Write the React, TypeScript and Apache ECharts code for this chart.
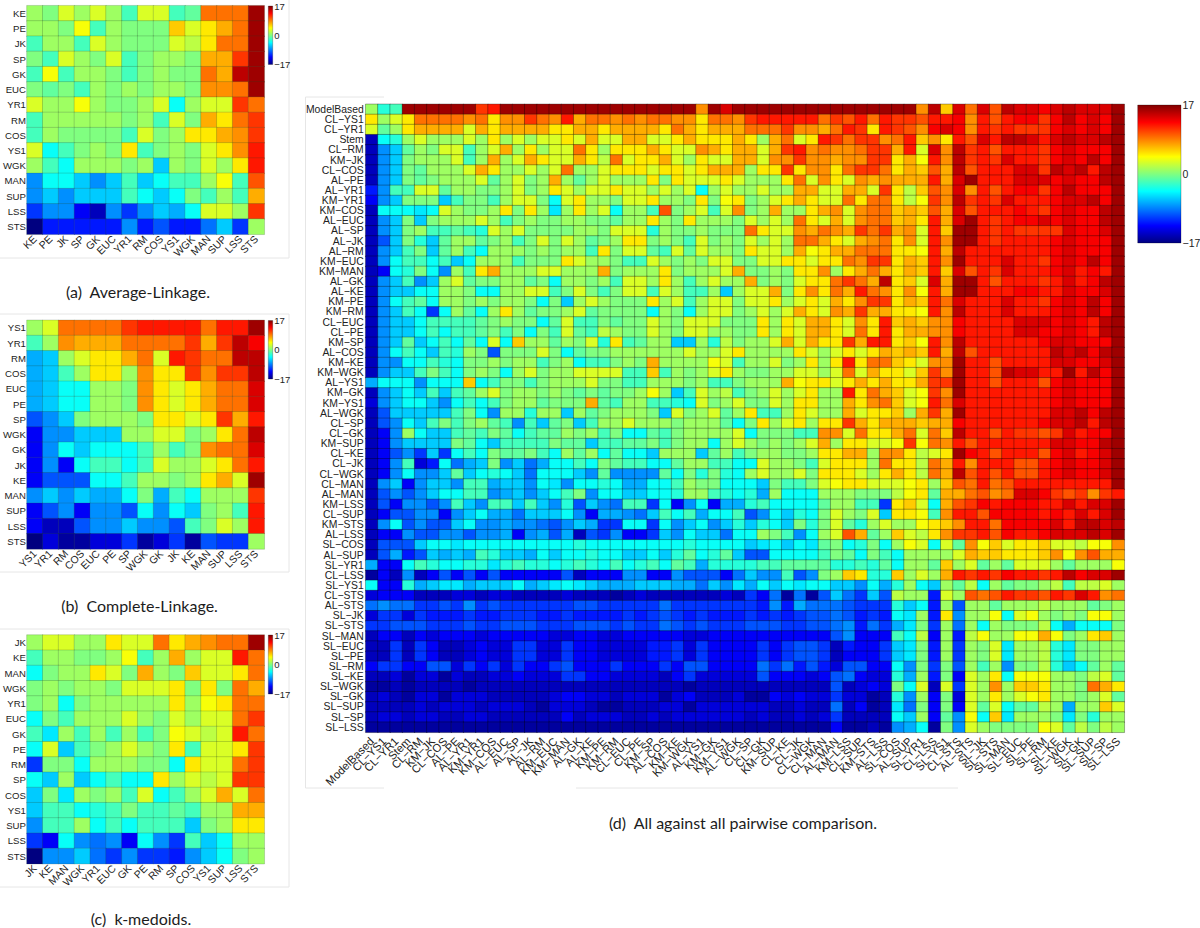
import React, { useEffect, useRef } from "react";
import * as echarts from "echarts";

const labelsA = ["KE","PE","JK","SP","GK","EUC","YR1","RM","COS","YS1","WGK","MAN","SUP","LSS","STS"];
const labelsB = ["YS1","YR1","RM","COS","EUC","PE","SP","WGK","GK","JK","KE","MAN","SUP","LSS","STS"];
const labelsC = ["JK","KE","MAN","WGK","YR1","EUC","GK","PE","RM","SP","COS","YS1","SUP","LSS","STS"];
const labelsD = ["ModelBased","CL−YS1","CL−YR1","Stem","CL−RM","KM−JK","CL−COS","AL−PE","AL−YR1","KM−YR1","KM−COS","AL−EUC","AL−SP","AL−JK","AL−RM","KM−EUC","KM−MAN","AL−GK","AL−KE","KM−PE","KM−RM","CL−EUC","CL−PE","KM−SP","AL−COS","KM−KE","KM−WGK","AL−YS1","KM−GK","KM−YS1","AL−WGK","CL−SP","CL−GK","KM−SUP","CL−KE","CL−JK","CL−WGK","CL−MAN","AL−MAN","KM−LSS","CL−SUP","KM−STS","AL−LSS","SL−COS","AL−SUP","SL−YR1","CL−LSS","SL−YS1","CL−STS","AL−STS","SL−JK","SL−STS","SL−MAN","SL−EUC","SL−PE","SL−RM","SL−KE","SL−WGK","SL−GK","SL−SUP","SL−SP","SL−LSS"];

const valuesA = [
[1,0,3,1,3,1,-2,3,3,-2,-1,9,9,9,16],
[1,1,0,4,-2,1,0,0,0,6,3,5,7,9,16],
[-2,1,1,-2,3,1,0,0,0,3,2,5,9,9,16],
[0,-2,3,1,0,3,-2,0,1,1,0,7,7,11,16],
[-2,4,-2,1,1,0,-2,0,1,0,0,9,7,15,16],
[0,-1,0,-2,1,0,1,0,1,1,0,8,8,9,16],
[3,1,1,4,1,0,0,1,3,-4,1,3,3,11,9],
[-2,1,1,1,1,1,0,1,-2,3,0,7,5,9,11],
[-2,1,0,0,0,0,-2,3,0,1,5,5,7,8,11],
[3,-4,-2,0,1,0,5,-2,0,1,0,3,5,8,12],
[1,-2,-4,1,1,1,0,1,-6,1,0,3,1,5,12],
[-8,-4,-4,-6,-8,-6,-2,-6,-4,-2,-2,1,4,-2,10],
[-8,-6,-8,-6,-6,-6,-2,-4,-6,-4,0,-2,1,-2,7],
[-11,-8,-8,-13,-15,-8,-11,-8,-6,-7,-4,3,3,1,11],
[-17,-12,-12,-12,-12,-12,-8,-12,-10,-12,-12,-9,-6,-11,1],
];
const valuesB = [
[1,3,9,9,9,9,11,12,12,12,12,9,12,12,16],
[-2,1,8,7,7,7,9,9,9,9,11,7,11,15,13],
[-7,-6,1,3,5,5,7,9,3,12,11,9,9,15,15],
[-7,-6,-2,1,5,5,1,8,5,5,11,8,11,11,15],
[-7,-6,-4,-4,1,1,0,8,5,3,5,7,9,9,14],
[-7,-6,-4,-4,1,1,0,8,5,3,5,7,9,9,14],
[-10,-8,-6,0,1,1,1,0,5,5,3,5,11,7,12],
[-13,-8,-8,-6,-6,-6,1,1,3,3,0,1,5,9,15],
[-13,-8,-4,-6,-4,-4,-4,-2,1,-2,0,8,9,9,14],
[-13,-8,-13,-4,-2,-2,-4,-2,3,1,1,3,5,9,12],
[-13,-10,-10,-10,-4,-4,-2,1,1,0,1,5,7,3,16],
[-8,-6,-8,-6,-7,-7,-4,0,-7,-2,-4,1,1,1,11],
[-13,-10,-8,-13,-8,-8,-10,-4,-8,-4,-6,0,1,-2,12],
[-13,-15,-15,-10,-8,-8,-6,-8,-8,-10,-2,0,3,1,12],
[-17,-14,-16,-16,-14,-14,-11,-16,-14,-11,-16,-10,-11,-11,1],
];
const valuesC = [
[1,3,3,1,1,5,3,3,9,5,7,8,9,9,16],
[-2,1,1,0,0,1,4,-2,1,7,1,3,3,12,9],
[-4,0,1,1,5,3,0,7,1,0,6,3,3,5,9],
[0,1,0,1,1,0,3,3,3,5,0,5,0,9,7],
[0,1,-4,0,1,1,1,1,1,5,1,4,5,9,9],
[-4,0,-2,1,1,1,3,1,0,3,1,3,3,9,11],
[-2,-5,1,-2,1,-2,1,-2,0,4,3,2,3,12,9],
[-4,3,-6,-2,0,1,3,1,0,5,-2,3,3,5,11],
[-11,0,0,-4,1,1,1,0,0,-4,5,3,3,9,11],
[-4,-6,1,-6,-4,-2,-4,-4,5,1,3,2,3,11,11],
[-6,0,-5,1,0,1,-2,3,-4,-2,1,3,7,3,9],
[-6,-2,-2,-4,-3,-2,0,-2,-2,-1,-2,1,1,7,7],
[-8,-2,-2,1,-4,-2,-4,-2,-2,-2,-6,0,1,5,5],
[-11,-13,-4,-8,-9,-8,-13,-4,-8,-11,-2,-6,-4,1,1],
[-17,-8,-8,-6,-9,-11,-8,-11,-11,-12,-8,-6,-4,0,1],
];

// Panel (d): columns 0-19
const valuesDLeft = [
[1,-3,-2,16,16,16,16,16,16,11,12,16,16,16,16,16,16,16,16,16],
[5,1,3,5,9,9,9,9,8,9,5,8,8,11,9,8,12,7,9,9],
[3,-1,1,5,7,7,7,7,3,7,5,7,7,7,7,5,5,7,7,5],
[-15,-4,-3,1,3,1,1,1,3,1,5,1,3,1,3,3,5,3,7,3],
[-15,-8,-6,-1,1,0,3,3,-2,1,3,7,1,5,1,3,3,9,5,1],
[-15,-8,-6,0,1,1,1,3,-2,1,7,1,3,7,5,3,3,7,5,2],
[-15,-8,-6,0,-1,1,1,1,3,7,5,1,1,3,1,3,9,1,1,3],
[-15,-8,-6,0,-1,0,1,1,1,3,-1,1,3,0,1,7,1,-1,1,3],
[-12,-8,-2,-2,3,3,-1,1,1,0,0,1,3,0,1,5,3,1,3,3],
[-13,-8,-6,0,0,0,-6,-2,0,0,-2,1,3,3,0,-4,3,5,1,1],
[-15,-4,-4,-4,-5,-4,3,1,0,0,1,5,0,5,1,-5,1,5,1,3],
[-15,-8,-6,0,-6,0,1,1,1,3,1,-2,0,1,0,0,1,1,0,0],
[-15,-8,-6,0,1,-2,-2,-1,-2,-3,3,1,3,0,0,0,0,1,1,0],
[-15,-10,-6,0,-3,-6,-1,1,1,-1,0,1,-2,0,3,0,3,1,-1,0],
[-15,-8,-6,-2,0,-6,-1,1,-2,-4,1,1,1,0,1,0,1,1,-2,5],
[-15,-8,-4,-2,-2,-4,-2,-6,-4,1,1,1,-2,0,0,0,5,3,1,1],
[-15,-13,-4,-3,0,-4,-8,1,-2,5,7,1,1,1,3,3,1,1,1,7],
[-15,-8,-6,-2,-8,-6,1,3,-1,0,0,1,1,-1,0,-4,1,1,0,1],
[-15,-8,-6,-6,-4,-4,1,1,0,-4,-4,1,1,3,3,-2,0,3,0,-2],
[-15,-8,-4,-2,-1,-4,1,1,0,1,0,1,1,0,-4,0,-6,1,3,1],
[-15,-8,-6,-2,-4,-11,-4,1,-1,-4,1,5,1,-1,0,0,1,3,-1,0],
[-15,-8,-6,-6,-4,-2,-2,-2,-2,-1,0,1,0,0,-4,-1,3,-2,-2,0],
[-15,-8,-6,-6,-4,-2,-4,-2,-2,-1,0,-2,0,-4,0,-2,3,-1,-2,2],
[-15,-8,-6,-1,-6,-4,-2,-4,-1,-4,3,-4,6,1,1,-1,1,0,3,-3],
[-15,-8,-4,-2,-4,-6,-2,-3,1,0,-10,0,0,0,3,0,-4,-1,0,0],
[-15,-8,-8,-4,-4,-2,-3,-4,0,0,1,0,1,1,-2,0,1,-4,-2,-2],
[-15,-8,-6,-6,-2,0,-2,-4,0,1,0,-4,1,3,0,1,1,3,3,3],
[-7,-4,-4,-4,-8,-4,-4,-4,6,-4,-2,0,0,-2,0,1,1,1,3,0],
[-15,-8,-6,-4,-6,-2,-6,-2,-1,1,3,0,1,1,0,1,0,-1,0,-1],
[-14,-8,-6,-4,-4,-6,-8,-4,-2,-4,-2,0,1,1,-1,0,0,0,7,-1],
[-15,-10,-6,-6,-6,-6,-6,-2,0,-4,-8,1,1,-3,1,1,-6,1,-1,0],
[-15,-10,-8,-4,-6,-2,0,-2,0,1,-1,-2,-8,-2,-6,-1,0,-6,-2,1],
[-15,-13,-8,1,-4,-6,-6,-2,-1,-2,0,-1,-4,-2,-1,-1,1,0,1,-2],
[-15,-13,-8,-6,-6,-6,-6,0,-1,-4,-6,-2,-2,-2,-2,0,-1,-1,-6,-2],
[-15,-13,-10,-8,-11,-6,-11,-4,-2,-4,0,-1,-1,0,-2,-4,1,-1,1,-4],
[-15,-13,-8,-2,-14,-12,-4,-9,-7,-6,0,-8,-6,-9,-7,-4,-4,-2,-4,0],
[-15,-13,-8,-4,-8,-8,-6,-1,-6,-4,-3,-4,-6,-9,-4,-4,-4,-6,-8,-1],
[-15,-8,-6,-13,-8,-6,-6,-8,-2,-2,-7,-6,-6,-8,-4,-5,-8,-4,-4,-3],
[-15,-10,-8,-10,-8,-6,-4,-4,-2,-2,-8,-7,-6,-8,-6,-4,-2,0,-8,-4],
[-15,-10,-13,-8,-8,-10,-8,-2,-6,-8,-2,-2,-6,-2,-6,-8,-3,-10,-6,-8],
[-15,-13,-10,-10,-8,-8,-13,-8,-6,-4,-7,-7,-9,-6,-6,-6,-4,-8,-13,-7],
[-15,-8,-4,-10,-8,-10,-10,-6,-4,-8,-8,-7,-8,-8,-9,-10,-8,-6,-7,-11],
[-15,-13,-13,-8,-10,-10,-8,-8,-10,-8,-8,-7,-13,-8,-7,-10,-7,-15,-10,-11],
[-15,-10,-10,-10,-6,-4,-4,-5,-4,-4,-4,-4,-4,-4,-4,-4,-4,-3,-4,-4],
[-15,-10,-7,-12,-10,-6,-7,-6,-7,-2,-3,-6,-6,-7,-4,-6,-4,-4,-3,-4],
[-7,-13,-13,-4,-2,-3,-4,-4,-3,-3,-5,-3,-2,-3,-3,-4,-3,-2,-3,-4],
[-16,-13,-15,-8,-15,-13,-10,-13,-10,-13,-10,-13,-13,-13,-13,-13,-10,-15,-13,-13],
[-4,-13,-13,-3,-7,-6,-5,-5,-7,-6,-6,-6,-4,-7,-6,-5,-4,-5,-6,-7],
[-14,-13,-13,-13,-15,-15,-15,-14,-14,-15,-14,-14,-15,-15,-15,-15,-14,-15,-15,-15],
[-9,-8,-9,-9,-11,-11,-10,-11,-8,-11,-10,-11,-11,-11,-11,-11,-11,-10,-10,-11],
[-14,-11,-11,-14,-11,-12,-12,-12,-11,-12,-12,-11,-11,-11,-12,-12,-11,-12,-12,-12],
[-11,-11,-10,-10,-10,-11,-11,-11,-10,-11,-11,-10,-10,-10,-11,-11,-11,-10,-10,-10],
[-15,-13,-13,-15,-13,-14,-13,-13,-13,-14,-13,-13,-13,-13,-13,-14,-14,-13,-13,-14],
[-15,-15,-11,-15,-11,-13,-15,-15,-14,-13,-14,-14,-11,-11,-14,-14,-11,-13,-13,-14],
[-15,-15,-11,-15,-11,-13,-15,-15,-14,-13,-14,-14,-11,-11,-14,-14,-11,-13,-13,-14],
[-13,-11,-11,-13,-13,-10,-10,-14,-11,-13,-11,-14,-11,-13,-13,-11,-10,-13,-13,-13],
[-15,-15,-14,-16,-14,-14,-16,-14,-15,-15,-14,-14,-13,-14,-14,-14,-11,-11,-13,-13],
[-16,-16,-15,-16,-15,-15,-15,-15,-16,-15,-15,-15,-15,-15,-15,-15,-15,-15,-15,-15],
[-15,-14,-15,-16,-14,-14,-16,-14,-14,-14,-15,-15,-15,-15,-15,-14,-13,-13,-14,-14],
[-15,-15,-15,-15,-14,-15,-14,-14,-14,-15,-14,-14,-14,-15,-16,-14,-14,-14,-15,-16],
[-15,-14,-14,-15,-14,-14,-15,-15,-14,-14,-15,-15,-15,-15,-15,-15,-13,-15,-14,-14],
[-16,-16,-16,-16,-16,-16,-16,-16,-16,-16,-16,-16,-16,-16,-16,-16,-16,-16,-16,-16],
];

// Panel (d): columns 20-42
const valuesDMiddle = [
[16,16,16,16,16,16,16,8,16,14,16,16,16,16,16,16,16,16,16,16,16,16,16],
[8,9,8,9,9,8,8,5,9,9,8,11,12,12,12,12,12,9,11,10,12,9,12],
[7,7,7,7,5,9,7,5,7,7,7,9,9,9,11,8,8,7,9,12,11,5,12],
[3,7,7,3,3,5,7,5,5,5,7,5,1,7,9,3,5,12,11,9,11,11,8],
[5,5,5,7,5,3,3,8,7,5,7,7,3,7,11,12,8,9,8,8,9,11,11],
[9,3,5,5,7,3,1,5,3,3,7,7,3,8,8,11,8,8,7,8,8,11,11],
[5,5,5,3,5,5,3,5,7,7,7,1,5,5,11,5,8,8,5,9,11,11,9],
[1,1,1,5,0,5,3,3,3,5,3,1,1,1,5,9,3,8,5,3,8,7,8],
[5,3,3,1,3,1,3,-4,1,3,1,1,3,1,1,7,7,3,3,7,7,3,11],
[0,3,3,5,1,1,0,5,0,4,5,0,1,3,5,7,5,3,3,9,5,9,9],
[-4,1,1,-2,10,0,1,3,-2,3,8,0,1,7,1,1,5,7,8,3,8,9,9],
[-1,1,1,5,1,0,5,1,1,1,0,3,1,3,1,9,5,3,7,3,8,9,9],
[3,3,3,-3,1,0,0,1,0,0,0,9,5,3,3,8,7,9,8,7,11,9,11],
[1,5,5,0,1,0,-2,3,0,1,0,3,1,3,1,9,9,7,5,3,7,8,9],
[0,3,3,-1,-2,3,-1,3,1,1,0,5,3,3,1,7,4,5,7,7,9,9,9],
[0,-2,-2,3,1,0,1,0,3,3,0,0,3,3,5,5,3,5,5,9,8,11,11],
[0,1,1,1,5,0,1,1,1,3,7,0,0,1,0,5,5,8,1,5,7,9,7],
[-2,3,3,1,5,1,-2,1,3,1,1,7,0,1,0,3,5,5,9,11,9,7,15],
[0,3,3,-2,3,1,-2,-2,1,-6,1,3,3,7,0,5,8,5,9,7,12,9,8],
[0,0,0,5,1,3,-2,1,3,3,0,3,3,5,1,3,5,3,7,5,8,11,11],
[0,0,0,-4,1,0,-4,1,3,3,0,1,3,1,3,7,5,3,8,7,11,7,7],
[-1,0,0,3,1,0,3,3,3,0,0,0,5,1,5,3,7,7,5,3,8,5,12],
[1,0,0,3,1,0,3,3,1,1,0,0,5,1,5,3,7,7,5,3,9,5,12],
[5,-2,-1,1,1,-6,-6,1,-3,2,0,1,1,3,7,3,7,5,5,11,7,12,12],
[1,1,1,1,1,1,3,1,1,3,5,1,1,1,1,5,3,1,3,5,3,5,7],
[0,1,0,7,1,1,1,1,4,3,-2,1,1,3,0,1,5,1,5,12,5,9,9],
[3,-2,-2,6,-2,1,0,1,3,5,1,0,0,1,1,3,3,1,3,9,3,7,5],
[0,-2,-2,1,1,1,0,1,-2,-2,0,1,1,1,7,4,5,5,3,5,7,5,7],
[0,0,1,4,1,-6,-2,3,1,2,-2,0,1,3,1,3,5,1,1,12,5,9,7],
[-2,1,1,-2,-2,-3,-4,3,0,1,3,0,0,3,1,5,5,1,1,7,5,8,9],
[1,1,1,0,-6,3,0,1,3,-1,1,5,-2,-2,1,5,3,1,1,7,3,5,5],
[1,3,1,1,1,0,1,1,1,-1,-4,0,5,1,3,5,1,5,5,11,7,5,7],
[0,-4,-4,-1,-2,0,1,1,1,1,3,-4,0,0,0,-2,-2,8,8,3,9,5,5],
[-2,-1,-1,0,-2,0,1,1,-4,1,3,1,0,1,0,1,3,7,1,5,5,3,3],
[-1,-4,-4,-6,1,1,1,-6,-1,1,-2,0,1,1,0,0,1,5,5,7,7,1,8],
[-1,-2,-2,-4,-4,-1,1,1,-2,-2,-4,-4,3,1,1,0,-2,3,5,5,5,1,9],
[-8,-8,-8,-8,-1,-4,0,-3,0,-3,-4,1,3,1,1,3,0,5,5,5,3,1,5],
[-4,-7,-7,-4,-4,-2,1,0,0,-4,-4,-4,-6,0,-2,-2,0,3,4,5,5,3,3],
[-4,-6,-6,-4,-4,-3,1,1,-2,-3,-4,-3,-7,1,-4,-4,-4,1,1,1,0,0,0],
[-9,-2,-2,-11,-4,-13,-8,-4,-13,-7,-7,-3,-2,-4,-4,-4,-4,-1,1,1,-2,-2,-11],
[-7,-8,-9,-6,-2,-4,-2,-7,-4,-4,-2,-10,-8,-4,-6,-3,-4,0,3,1,0,3,-6],
[-11,-4,-4,-11,-4,-8,-6,-4,-8,-6,-3,-6,-3,-4,-6,0,-3,0,3,-1,-3,1,3],
[-8,-13,-13,-11,-6,-8,-4,-6,-6,-9,-4,-4,1,0,-2,-8,-4,1,3,10,7,-1,1],
[-4,-4,-4,-4,-4,-4,-3,-4,-4,-4,-4,-6,-5,-4,-6,-4,-5,-1,0,-4,-3,0,-4],
[-4,-6,-6,-4,-6,-3,-1,-4,-3,-1,-6,-10,-10,-4,-4,-4,-4,-2,0,-1,-4,0,-2],
[-2,-4,-3,-2,-4,-1,-2,-7,-3,-3,-3,-3,-2,-2,-1,-1,-1,-1,-3,-3,-2,-3,-1],
[-13,-8,-8,-13,-13,-8,-10,-10,-10,-13,-9,-6,-8,-8,-2,-10,-8,0,1,6,5,-3,-3],
[-7,-7,-6,-6,-6,-7,-7,-9,-6,-8,-5,-7,-4,-6,-4,-5,-4,-4,-6,-6,-8,-4,-7],
[-16,-15,-14,-15,-15,-15,-15,-15,-15,-14,-15,-11,-13,-9,-16,-9,-16,-10,-6,-9,-11,-6,-10],
[-11,-11,-11,-11,-9,-11,-11,-11,-11,-11,-11,-11,-12,-8,-12,-7,-9,-9,-9,-10,-11,-11,-11],
[-12,-11,-12,-11,-10,-11,-12,-11,-12,-12,-12,-11,-12,-11,-12,-11,-10,-10,-9,-10,-12,-11,-12],
[-11,-10,-11,-11,-9,-10,-11,-10,-11,-11,-11,-10,-10,-10,-11,-11,-10,-10,-9,-8,-12,-9,-11],
[-14,-13,-13,-13,-13,-13,-14,-14,-13,-13,-13,-13,-13,-13,-13,-13,-13,-13,-10,-8,-13,-13,-13],
[-14,-14,-14,-12,-12,-11,-14,-11,-13,-13,-13,-13,-11,-13,-11,-10,-10,-11,-15,-12,-13,-13,-11],
[-14,-14,-14,-12,-12,-11,-14,-11,-13,-13,-13,-13,-11,-13,-11,-10,-10,-11,-15,-13,-13,-13,-11],
[-11,-13,-13,-13,-11,-13,-10,-10,-13,-13,-13,-13,-9,-11,-9,-12,-10,-12,-14,-10,-10,-13,-13],
[-14,-14,-14,-14,-15,-13,-11,-14,-14,-14,-14,-14,-10,-13,-13,-13,-14,-13,-10,-9,-13,-14,-14],
[-15,-15,-15,-15,-15,-15,-16,-15,-15,-15,-15,-15,-15,-15,-15,-15,-15,-15,-10,-15,-14,-13,-14],
[-15,-14,-14,-14,-16,-14,-13,-15,-15,-15,-14,-16,-16,-13,-14,-13,-14,-14,-11,-14,-14,-16,-15],
[-16,-15,-15,-15,-14,-14,-16,-14,-14,-14,-14,-14,-14,-15,-15,-14,-15,-15,-9,-15,-13,-16,-15],
[-14,-15,-15,-14,-15,-14,-14,-14,-14,-14,-14,-15,-14,-15,-15,-14,-15,-14,-11,-15,-15,-15,-15],
[-16,-16,-16,-16,-16,-16,-16,-16,-16,-16,-16,-16,-16,-16,-16,-16,-16,-16,-13,-16,-16,-15,-16],
];

// Panel (d): columns 43-61
const valuesDRight = [
[16,16,8,15,6,14,9,14,10,15,14,14,13,14,15,14,14,14,16],
[11,11,10,12,12,13,8,12,10,12,13,13,11,13,15,13,14,13,16],
[11,10,8,13,14,13,8,12,11,12,11,11,11,13,14,13,14,13,16],
[9,12,6,8,5,12,10,14,12,15,15,14,12,14,15,14,14,15,16],
[7,12,3,14,8,15,11,12,10,12,12,12,11,13,14,13,13,13,16],
[5,7,4,12,8,15,11,12,11,14,12,12,11,13,14,13,15,13,16],
[5,7,6,10,7,15,10,12,12,12,14,14,11,15,14,15,12,15,16],
[7,7,7,12,7,14,16,12,12,12,14,14,14,13,14,13,13,15,16],
[5,2,6,10,8,14,8,12,10,12,13,13,11,13,15,13,13,13,16],
[5,2,4,11,8,15,11,12,11,14,12,12,12,13,14,14,15,13,16],
[6,7,6,10,7,14,10,12,12,12,13,12,11,13,14,13,13,15,16],
[6,7,5,12,7,14,16,12,11,12,13,13,14,13,14,13,13,15,16],
[7,8,3,12,6,16,16,12,11,12,11,11,11,11,14,13,13,14,16],
[5,8,3,12,8,16,16,12,11,12,12,12,12,13,14,13,13,13,16],
[5,5,4,12,7,15,12,12,12,12,12,12,12,13,14,13,13,13,16],
[5,7,6,12,8,16,12,12,12,14,12,12,11,13,14,13,15,13,16],
[5,7,6,12,6,14,10,12,11,14,12,12,12,13,14,12,13,12,16],
[5,6,3,14,7,16,16,12,10,12,12,12,11,12,14,12,13,15,16],
[5,8,4,12,7,16,16,12,12,12,13,13,12,12,14,13,13,14,16],
[5,7,6,12,9,14,12,12,12,14,12,12,11,13,14,13,15,13,16],
[5,5,4,12,8,15,12,12,12,14,12,12,12,13,14,13,15,13,16],
[6,7,6,8,8,13,12,12,12,12,14,14,14,13,14,13,12,15,16],
[5,7,7,8,8,13,12,12,12,12,14,14,13,13,14,13,12,15,16],
[5,6,4,12,8,15,12,12,12,12,12,12,13,14,14,13,13,13,16],
[6,7,6,12,7,15,10,12,12,12,12,12,12,15,14,15,13,15,16],
[6,5,3,8,8,16,12,12,10,12,12,12,12,14,14,13,13,14,16],
[5,3,6,11,8,16,12,12,10,15,14,14,12,12,16,12,15,13,16],
[5,5,7,11,11,16,12,12,10,12,12,12,10,13,14,13,13,13,16],
[6,3,4,11,8,16,12,12,12,12,12,12,12,13,14,13,13,13,16],
[6,3,4,12,9,14,12,12,12,12,12,12,12,13,14,13,13,13,16],
[6,1,7,11,7,16,12,12,12,12,12,12,12,14,14,15,13,15,16],
[7,7,6,7,7,13,12,12,12,12,12,12,13,14,14,15,12,15,16],
[7,9,3,9,6,15,12,12,10,12,11,11,10,11,14,12,13,13,16],
[4,11,4,9,8,12,10,12,12,12,12,12,12,14,14,13,13,15,16],
[8,5,2,3,5,16,13,12,10,12,12,12,10,13,14,12,13,14,16],
[5,5,2,9,7,12,8,12,12,12,10,10,12,13,14,13,13,14,16],
[7,5,2,9,7,15,10,12,10,12,10,10,12,13,14,13,13,14,16],
[3,4,5,1,6,10,9,12,9,10,12,12,12,12,12,12,12,12,16],
[2,4,5,-1,7,7,9,10,8,9,14,14,13,11,10,11,8,11,12],
[5,6,3,-4,7,10,11,13,12,13,13,13,12,12,14,12,14,14,16],
[5,5,4,-2,8,12,12,10,13,13,13,13,12,13,12,14,12,14,16],
[1,1,4,5,6,8,12,12,9,13,13,13,13,14,12,15,15,14,15],
[6,3,2,5,8,11,11,12,10,13,12,12,13,14,14,14,15,14,16],
[1,4,3,-4,3,-1,8,4,6,3,5,5,6,3,3,2,4,4,8],
[-4,1,1,1,1,3,7,6,6,5,5,5,6,8,4,8,10,7,7],
[-4,1,1,-1,6,1,3,-1,1,-1,3,3,3,1,-1,1,1,1,4],
[6,1,3,1,7,12,11,12,11,13,12,12,11,12,15,13,14,14,16],
[-3,1,-4,-6,1,-1,2,-4,1,-1,0,0,1,2,-2,2,2,3,1],
[2,1,1,-12,3,1,10,9,10,12,11,11,10,12,11,14,12,8,9],
[-3,-6,-4,-12,1,-10,1,1,-1,1,1,1,2,1,1,1,-1,0,1],
[-4,-5,1,-12,5,-8,1,1,4,-4,3,4,1,0,1,0,4,4,1],
[-7,-5,0,-11,1,-9,1,-4,1,0,0,0,2,-4,-7,-4,-4,-4,0],
[-2,-4,2,-13,1,-12,2,4,1,1,4,4,7,4,0,1,5,6,1],
[-6,-5,0,-12,1,-11,1,0,3,-5,1,1,2,-3,-5,0,0,1,1],
[-6,-5,0,-12,1,-11,1,0,3,-5,1,1,2,-3,-5,0,0,1,1],
[-4,-8,0,-11,0,-10,1,-2,1,-8,0,0,2,-3,-6,-4,-1,1,-1],
[-3,-7,1,-12,0,-13,3,1,5,-4,4,4,4,1,1,0,2,3,-1],
[0,-4,3,-15,3,-11,3,1,8,1,6,6,5,1,1,0,9,7,5],
[-3,-8,1,-13,0,-14,3,1,5,1,3,4,5,1,1,0,1,3,-1],
[-5,-9,0,-13,0,-13,3,-1,3,-4,-1,-1,2,1,-7,1,1,6,3],
[-4,-6,1,-13,-1,-8,4,-4,6,-5,1,1,1,0,-5,0,-3,1,1],
[-8,-7,-4,-16,0,-8,3,1,0,0,0,0,4,3,-1,2,0,2,1],
];

const valuesD = valuesDLeft.map((row, i) => [...row, ...valuesDMiddle[i], ...valuesDRight[i]]);

const jet = ["#000080","#0000ff","#0080ff","#00ffff","#80ff80","#ffff00","#ff8000","#ff0000","#800000"];
const textFont = "'Liberation Sans', Arial, sans-serif";
const captionFont = "Lato, 'Noto Sans', sans-serif";
const frame = "#e6e6e6";

type Panel = { labels: string[]; values: number[][]; left: number; top: number; width: number; height: number; size: number; xSize: number; margin: number; xMargin: number; border: string };
const panels: Panel[] = [
  { labels: labelsA, values: valuesA, left: 22.7, top: 5.7, width: 241.6, height: 228.6, size: 9.6, xSize: 10.4, margin: 1, xMargin: 3, border: "rgba(40,70,40,0.35)" },
  { labels: labelsB, values: valuesB, left: 22.7, top: 320.3, width: 241.6, height: 228.7, size: 9.6, xSize: 10.4, margin: 1, xMargin: 3, border: "rgba(40,70,40,0.35)" },
  { labels: labelsC, values: valuesC, left: 22.7, top: 635, width: 241.6, height: 228.7, size: 9.6, xSize: 10.4, margin: 1, xMargin: 3, border: "rgba(40,70,40,0.35)" },
  { labels: labelsD, values: valuesD, left: 365.7, top: 104.3, width: 758.6, height: 628, size: 10.4, xSize: 11.3, margin: 2, xMargin: 7, border: "rgba(0,0,0,0.45)" },
];

const bars = [
  { x: 268.3, y: 6, w: 4.4, h: 58.5, fs: 9.5 },
  { x: 268.3, y: 320.5, w: 4.4, h: 58.5, fs: 9.5 },
  { x: 268.3, y: 635, w: 4.4, h: 59, fs: 9.5 },
  { x: 1137.7, y: 105, w: 43.3, h: 138, fs: 10.5 },
];

const captions = [
  { text: "(a)  Average-Linkage.", x: 138, y: 291 },
  { text: "(b)  Complete-Linkage.", x: 139.5, y: 605.5 },
  { text: "(c)  k-medoids.", x: 141, y: 918.5 },
  { text: "(d)  All against all pairwise comparison.", x: 743, y: 822 },
];

const frameLines = [
  [0, 258, 289, 258], [289, 0, 289, 258],
  [0, 314, 289, 314], [0, 572, 289, 572], [289, 314, 289, 572],
  [0, 629, 289, 629], [0, 887, 289, 887], [289, 629, 289, 887],
  [305.5, 97, 305.5, 788], [305.5, 97, 384, 97], [305.5, 788, 384, 788], [576, 788, 958, 788],
];

export default function App() {
  const ref = useRef<HTMLDivElement>(null);
  useEffect(() => {
    if (!ref.current) return;
    const chart = echarts.init(ref.current, undefined, { renderer: "svg" });
    const graphic: any[] = [];
    frameLines.forEach(([x1, y1, x2, y2]) =>
      graphic.push({ type: "line", silent: true, shape: { x1, y1, x2, y2 }, style: { stroke: frame, lineWidth: 1 } })
    );
    bars.forEach((b) => {
      graphic.push({
        type: "rect", silent: true, shape: { x: b.x, y: b.y, width: b.w, height: b.h },
        style: {
          stroke: "rgba(0,0,0,0.5)", lineWidth: 0.5,
          fill: new echarts.graphic.LinearGradient(0, 1, 0, 0, jet.map((color, i) => ({ offset: i / 8, color }))),
        },
      });
      const tx = b.x + b.w + 1.5;
      [["17", b.y], ["0", b.y + b.h / 2], ["−17", b.y + b.h]].forEach(([text, y]) =>
        graphic.push({
          type: "text", silent: true, x: tx, y: y as number,
          style: { text, fill: "#222", font: `${b.fs}px ${textFont}`, textVerticalAlign: "middle", textAlign: "left" },
        })
      );
    });
    captions.forEach((c) =>
      graphic.push({
        type: "text", silent: true, x: c.x, y: c.y,
        style: { text: c.text, fill: "#1c1c1c", font: `16px ${captionFont}`, textAlign: "center", textVerticalAlign: "middle" },
      })
    );

    chart.setOption({
      animation: false,
      backgroundColor: "#ffffff",
      grid: panels.map((p) => ({ left: p.left, top: p.top, width: p.width, height: p.height, containLabel: false })),
      xAxis: panels.map((p, i) => ({
        type: "category", gridIndex: i, data: p.labels, axisLine: { show: false }, axisTick: { show: false }, splitLine: { show: false },
        axisLabel: { interval: 0, rotate: 45, fontSize: p.xSize, color: "#222", fontFamily: textFont, margin: p.xMargin, hideOverlap: false },
      })),
      yAxis: panels.map((p, i) => ({
        type: "category", gridIndex: i, inverse: true, data: p.labels, axisLine: { show: false }, axisTick: { show: false }, splitLine: { show: false },
        axisLabel: { interval: 0, fontSize: p.size, color: "#222", fontFamily: textFont, margin: p.margin, hideOverlap: false },
      })),
      visualMap: { show: false, type: "continuous", min: -17, max: 17, seriesIndex: [0, 1, 2, 3], inRange: { color: jet } },
      series: panels.map((p, i) => ({
        type: "heatmap", xAxisIndex: i, yAxisIndex: i, progressive: 0,
        data: p.values.flatMap((row, y) => row.map((v, x) => [x, y, v])),
        itemStyle: { borderColor: p.border, borderWidth: i === 3 ? 0.7 : 0.6 },
        emphasis: { disabled: true }, silent: true,
      })),
      graphic,
    });
    return () => chart.dispose();
  }, []);
  return <div ref={ref} style={{ position: "absolute", left: 0, top: 0, width: 1200, height: 928 }} />;
}
